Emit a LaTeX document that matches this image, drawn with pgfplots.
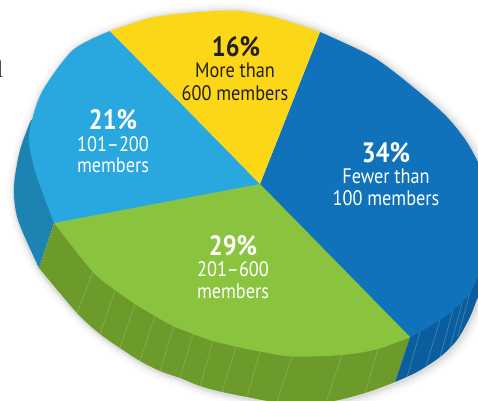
\documentclass[border=0pt]{standalone}
\usepackage{fontspec}
\setmainfont[FakeStretch=0.87]{PT Sans}
\usepackage{pgfplots}
\pgfplotsset{compat=1.18}
\definecolor{cBlue}{HTML}{1072BA}
\definecolor{cBlueS}{HTML}{0B5E9E}
\definecolor{cSky}{HTML}{29A8E0}
\definecolor{cSkyS}{HTML}{1C83B3}
\definecolor{cGreen}{HTML}{8AC43F}
\definecolor{cGreenS}{HTML}{6C9B2C}
\definecolor{cYellow}{HTML}{FBD717}
\definecolor{cText}{HTML}{231F20}
\tikzset{
  lab/.style={font=\fontsize{21}{21}\selectfont, text=white, inner sep=0pt, anchor=center},
  pct/.style={font=\fontsize{28}{24}\selectfont\bfseries, text=white, inner sep=0pt, anchor=center},
  slat/.style={draw=white, opacity=0.22, line width=0.5pt},
}
\pgfplotstableread{
x y
110 31
150 18
187 13
217 11
240 11
273 17
300 25
320 32
373 57
413 87
447 117
470 147
490 190
497 228
490 258
478 297
470 317
457 340
440 357
417 372
395 382
365 393
327 402
277 402
247 397
222 392
200 386
180 378
160 371
140 361
120 348
100 334
77 313
39 268
18 220
14 187
20 150
31 120
43 90
73 50
110 31
}\outline
\begin{document}
\begin{tikzpicture}
\begin{axis}[
  scale only axis, width=478pt, height=400pt,
  xmin=0, xmax=478, ymin=0, ymax=400, y dir=reverse,
  hide axis, clip=true,
  every axis plot/.append style={line join=round},
]
% soft shadow
\addplot[draw=black, line width=18pt, opacity=0.015, smooth, forget plot, xshift=2pt, yshift=-1pt] table {\outline};
\addplot[draw=black, line width=13pt, opacity=0.025, smooth, forget plot, xshift=2pt, yshift=-1pt] table {\outline};
\addplot[draw=black, line width=8pt, opacity=0.04, smooth, forget plot, xshift=2pt, yshift=-1pt] table {\outline};
\addplot[draw=black, line width=4pt, opacity=0.06, smooth, forget plot, xshift=1pt, yshift=-1pt] table {\outline};
% sides: the outer rim, closed under the top sectors
\addplot[fill=cSkyS, draw=none, smooth] coordinates {(39,268)(18,220)(14,187)(20,150)(31,120)} -- (axis cs:100,150) -- (axis cs:54,223) -- cycle;
\addplot[fill=cGreenS, draw=none, smooth] coordinates {(39,268)(77,313)(100,334)(120,348)(140,361)(160,371)(180,378)(200,386)(222,392)(247,397)(277,402)(327,402)(365,393)(395,382)} -- (axis cs:410,337) -- (axis cs:260,184) -- (axis cs:54,223) -- cycle;
\addplot[fill=cBlueS, draw=none, smooth] coordinates {(395,382)(417,372)(440,357)(457,340)(470,317)(478,297)(490,270)} -- (axis cs:490,240) -- (axis cs:260,184) -- (axis cs:410,337) -- cycle;
% slats
\addplot[slat] coordinates {(93,272)(77,313)};
\addplot[slat] coordinates {(115,290)(100,334)};
\addplot[slat] coordinates {(135,304)(120,348)};
\addplot[slat] coordinates {(155,316)(140,361)};
\addplot[slat] coordinates {(174,326)(160,371)};
\addplot[slat] coordinates {(193,334)(180,378)};
\addplot[slat] coordinates {(213,341)(200,386)};
\addplot[slat] coordinates {(236,347)(222,392)};
\addplot[slat] coordinates {(260,352)(247,397)};
\addplot[slat] coordinates {(292,357)(277,402)};
\addplot[slat] coordinates {(342,355)(327,400)};
\addplot[slat] coordinates {(378,349)(365,393)};
\addplot[slat, opacity=0.3] coordinates {(420,332)(407,377)};
\addplot[slat, opacity=0.3] coordinates {(440,320)(426,366)};
\addplot[slat, opacity=0.3] coordinates {(453,310)(440,357)};
\addplot[slat, opacity=0.3] coordinates {(462,303)(450,348)};
\addplot[slat, opacity=0.3] coordinates {(470,293)(458,336)};
% top sectors
\addplot[fill=cBlue, draw=none, smooth] coordinates {(320,32)(373,57)(413,87)(447,117)(470,147)(490,190)(497,228)(490,250)(470,293)(453,310)(440,320)(420,332)(410,337)} -- (axis cs:260,184) -- cycle;
\addplot[fill=cGreen, draw=none, smooth] coordinates {(410,337)(378,349)(342,355)(292,356.5)(260,351.5)(240,347.5)(213,341)(193,334)(173,326)(155,316)(135,304)(115,290)(93,272)(54,223)} -- (axis cs:260,184) -- cycle;
\addplot[fill=cSky, draw=none, smooth] coordinates {(54,223)(37,177)(29,143)(32,120)(43,90)(73,50)(110,31)} -- (axis cs:260,184) -- cycle;
\addplot[fill=cYellow, draw=none, smooth] coordinates {(110,31)(150,18)(187,13)(217,11)(240,11)(273,17)(300,25)(320,32)} -- (axis cs:260,184) -- cycle;
% labels
\node[pct] at (axis cs:386,152.5) {34\%};
\node[lab] at (axis cs:386,176) {Fewer than};
\node[lab] at (axis cs:386,198) {100 members};
\node[pct] at (axis cs:233,245.5) {29\%};
\node[lab] at (axis cs:233,269) {201–600};
\node[lab] at (axis cs:233,291) {members};
\node[pct] at (axis cs:113,120) {21\%};
\node[lab] at (axis cs:113,144) {101–200};
\node[lab] at (axis cs:113,165) {members};
\node[pct, text=cText] at (axis cs:236,46.5) {16\%};
\node[lab, text=cText] at (axis cs:235,70) {More than};
\node[lab, text=cText] at (axis cs:235,93) {600 members};
\node[font=\fontspec{Liberation Serif}\fontsize{24}{24}\selectfont, text=cText, inner sep=0pt] at (axis cs:0,69) {l};
\end{axis}
\path (0,0) rectangle (478pt,400pt);
\end{tikzpicture}
\end{document}
